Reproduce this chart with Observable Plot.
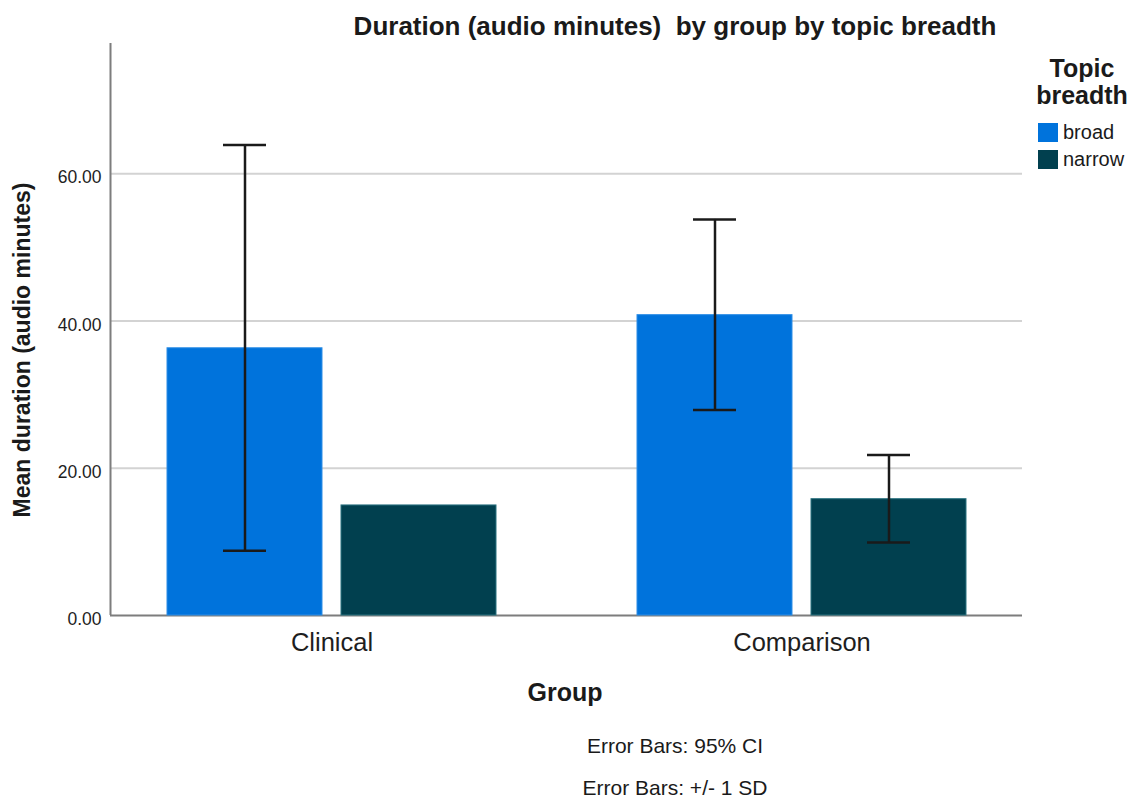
<!DOCTYPE html>
<html>
<head>
<meta charset="utf-8">
<script src="https://cdn.jsdelivr.net/npm/d3@7"></script>
<script src="https://cdn.jsdelivr.net/npm/@observablehq/plot@0.6"></script>
<style>
  html, body { margin: 0; padding: 0; background: #fff; }
  #wrap { position: relative; width: 1132px; height: 799px; font-family: "Liberation Sans", Arial, sans-serif; color: #1a1a1a; overflow: hidden; background: #fff; }
  .layer { position: absolute; left: 0; top: 0; }
  .abs { position: absolute; white-space: pre; line-height: 1; }
  #title { left: 675px; top: 13px; transform: translateX(-50%); font-size: 26px; font-weight: bold; }
  #ylabel { left: 22px; top: 350px; transform: translate(-50%, -50%) rotate(-90deg); font-size: 23px; font-weight: bold; }
  #xlabel { left: 565px; top: 680px; transform: translateX(-50%); font-size: 25px; font-weight: bold; }
  .foot { left: 675px; transform: translateX(-50%); font-size: 21px; }
  #legend { left: 1030px; top: 55px; width: 104px; }
  #legend .lt { text-align: center; font-size: 25px; font-weight: bold; line-height: 27px; }
  #legend .item { display: flex; align-items: center; margin-top: 7px; font-size: 20px; height: 20px; }
  #legend .item.first { margin-top: 13px; }
  #legend .sw { width: 20px; height: 19px; margin-left: 8px; margin-right: 5px; }
</style>
</head>
<body>
<div id="wrap">
  <div id="back" class="layer"></div>
  <div id="front" class="layer"></div>
  <div id="title" class="abs">Duration (audio minutes)  by group by topic breadth</div>
  <div id="ylabel" class="abs">Mean duration (audio minutes)</div>
  <div id="xlabel" class="abs">Group</div>
  <div class="abs foot" style="top:735px">Error Bars: 95% CI</div>
  <div class="abs foot" style="top:777px">Error Bars: +/- 1 SD</div>
  <div id="legend" class="abs"></div>
</div>
<script>
// Mean audio duration per group and topic breadth, with error-bar limits
const groups = ["Clinical", "Comparison"];
const topics = ["broad", "narrow"];
const topicColors = ["#0073dc", "#01404f"];

const groupCol = ["Clinical", "Clinical", "Comparison", "Comparison"];
const topicCol = ["broad", "narrow", "broad", "narrow"];
const meanMinutes = [36.3, 14.95, 40.8, 15.8];
const errLow = [8.8, null, 27.9, 9.9];
const errHigh = [63.9, null, 53.8, 21.8];

const yTicks = [0, 20, 40, 60];
const legendTitle = ["Topic", "breadth"];

const rows = groupCol.map((g, i) => ({
  group: g, topic: topicCol[i], mean: meanMinutes[i], lo: errLow[i], hi: errHigh[i]
}));
const errRows = rows.filter(d => d.lo != null && d.hi != null);

// shared frame geometry for both layers
const frameOpts = {
  width: 1132, height: 720,
  marginLeft: 110, marginRight: 110, marginTop: 43, marginBottom: 105,
  style: { fontFamily: "Liberation Sans, Arial, sans-serif", color: "#1e1e1e", background: "transparent" }
};
const yDomain = [0, 77.7];
const axisGray = "#7d7d7d";
const ink = "#1a1a1a";

// Back layer: gridlines, spines and the value axis across the whole frame
const back = Plot.plot({
  ...frameOpts,
  x: { domain: [0, 1], axis: null },
  y: { domain: yDomain, axis: null },
  marks: [
    Plot.ruleY(yTicks.filter(t => t > 0), { stroke: "#d3d3d3", strokeWidth: 2 }),
    Plot.ruleY([0], { stroke: axisGray, strokeWidth: 2 }),
    Plot.ruleX([0], { stroke: axisGray, strokeWidth: 2 }),
    Plot.axisY(yTicks, { anchor: "left", tickSize: 0, tickPadding: 9, dy: 4, fontSize: 17.5, tickFormat: d3.format(".2f"), label: null })
  ]
});

// Front layer: grouped bars with error bars, one facet per group
const barEdge = d => d.topic === "broad" ? "#2f8ee6" : "#2b7380";
const front = Plot.plot({
  ...frameOpts,
  fx: { domain: groups, paddingInner: 0.3, paddingOuter: 0.119, label: null },
  x: { domain: topics, paddingInner: 0.11, paddingOuter: 0, axis: null },
  y: { domain: yDomain, axis: null },
  color: { domain: topics, range: topicColors },
  marks: [
    Plot.barY(rows, { fx: "group", x: "topic", y: "mean", fill: "topic", stroke: barEdge, strokeWidth: 1 }),
    Plot.ruleX(errRows, { fx: "group", x: "topic", y1: "lo", y2: "hi", stroke: ink, strokeWidth: 2.5 }),
    Plot.tickY(errRows, { fx: "group", x: "topic", y: "hi", stroke: ink, strokeWidth: 2.5, insetLeft: 56, insetRight: 56 }),
    Plot.tickY(errRows, { fx: "group", x: "topic", y: "lo", stroke: ink, strokeWidth: 2.5, insetLeft: 56, insetRight: 56 }),
    Plot.axisFx({ anchor: "bottom", tickSize: 0, tickPadding: 17, fontSize: 25.5, label: null })
  ]
});

document.getElementById("back").appendChild(back);
document.getElementById("front").appendChild(front);

// Legend for topic breadth
const legend = document.getElementById("legend");
legend.innerHTML = legendTitle.map(t => `<div class="lt">${t}</div>`).join("") +
  topics.map((t, i) => `<div class="item${i === 0 ? " first" : ""}"><span class="sw" style="background:${topicColors[i]}"></span>${t}</div>`).join("");
</script>
</body>
</html>
